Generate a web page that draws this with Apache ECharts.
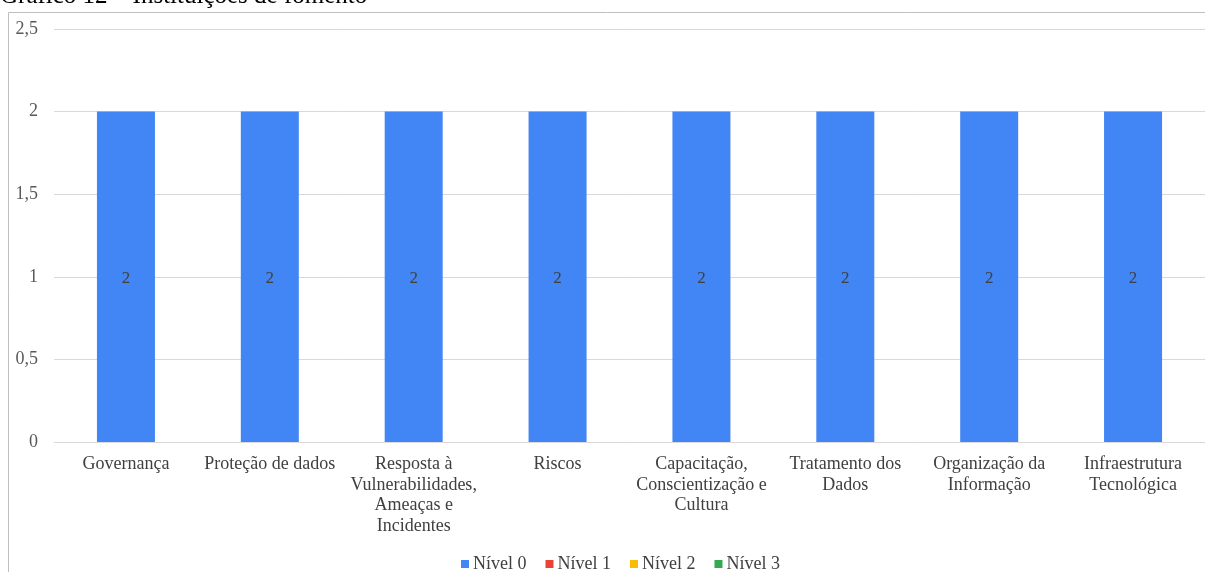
<!DOCTYPE html>
<html>
<head>
<meta charset="utf-8">
<script src="https://cdn.jsdelivr.net/npm/echarts@6/dist/echarts.min.js"></script>
<style>
  html, body { margin: 0; padding: 0; background: #fff; }
  #main { width: 1205px; height: 572px; }
</style>
</head>
<body>
<div id="main"></div>
<script>
// categorias do eixo x
const categorias = [
  'Governança',
  'Proteção de dados',
  'Resposta à\nVulnerabilidades,\nAmeaças e\nIncidentes',
  'Riscos',
  'Capacitação,\nConscientização e\nCultura',
  'Tratamento dos\nDados',
  'Organização da\nInformação',
  'Infraestrutura\nTecnológica'
];
const nivel0 = [2, 2, 2, 2, 2, 2, 2, 2];
const nivel1 = [null, null, null, null, null, null, null, null];
const nivel2 = [null, null, null, null, null, null, null, null];
const nivel3 = [null, null, null, null, null, null, null, null];
const yTicks = [0, 0.5, 1, 1.5, 2, 2.5];

const fonte = '"Liberation Serif", "Times New Roman", serif';
const chart = echarts.init(document.getElementById('main'), null, { renderer: 'canvas' });

const serie = (nome, dados, cor, rotulo) => ({
  name: nome,
  type: 'bar',
  stack: 'total',
  barWidth: 58,
  itemStyle: { color: cor },
  label: {
    show: rotulo,
    position: 'inside',
    offset: [0, 2],
    color: '#404040',
    fontFamily: fonte,
    fontSize: 17
  },
  animation: false,
  data: dados
});

const option = {
  backgroundColor: '#fff',
  textStyle: { fontFamily: fonte },
  graphic: [
    {
      type: 'text',
      left: 0,
      top: -16,
      style: {
        text: 'Gráfico 12 – Instituições de fomento',
        font: '25px ' + fonte,
        fill: '#000'
      }
    },
    {
      type: 'rect',
      shape: { x: 8.5, y: 12.5, width: 1210, height: 580 },
      style: { fill: 'none', stroke: '#bfbfbf', lineWidth: 1 },
      z: -1
    }
  ],
  legend: {
    bottom: -6,
    left: 456,
    itemWidth: 8,
    itemHeight: 8,
    itemGap: 19,
    icon: 'rect',
    textStyle: { fontFamily: fonte, fontSize: 18, color: '#404040', padding: [0, 0, 0, -1] },
    data: ['Nível 0', 'Nível 1', 'Nível 2', 'Nível 3']
  },
  grid: { left: 54, right: -1, top: 29, bottom: 130, containLabel: false },
  xAxis: {
    type: 'category',
    data: categorias,
    axisTick: { show: false },
    axisLine: { lineStyle: { color: '#d9d9d9' } },
    axisLabel: {
      interval: 0,
      margin: 12,
      color: '#404040',
      fontFamily: fonte,
      fontSize: 18,
      lineHeight: 20.7
    }
  },
  yAxis: {
    type: 'value',
    min: yTicks[0],
    max: yTicks[yTicks.length - 1],
    interval: 0.5,
    axisLine: { show: false },
    axisTick: { show: false },
    splitLine: { lineStyle: { color: '#d9d9d9' } },
    axisLabel: {
      color: '#595959',
      fontFamily: fonte,
      fontSize: 18,
      margin: 16,
      formatter: v => String(v).replace('.', ',')
    }
  },
  series: [
    serie('Nível 0', nivel0, '#4285f4', true),
    serie('Nível 1', nivel1, '#ea4335', false),
    serie('Nível 2', nivel2, '#fbbc04', false),
    serie('Nível 3', nivel3, '#34a853', false)
  ]
};

chart.setOption(option);
</script>
</body>
</html>
